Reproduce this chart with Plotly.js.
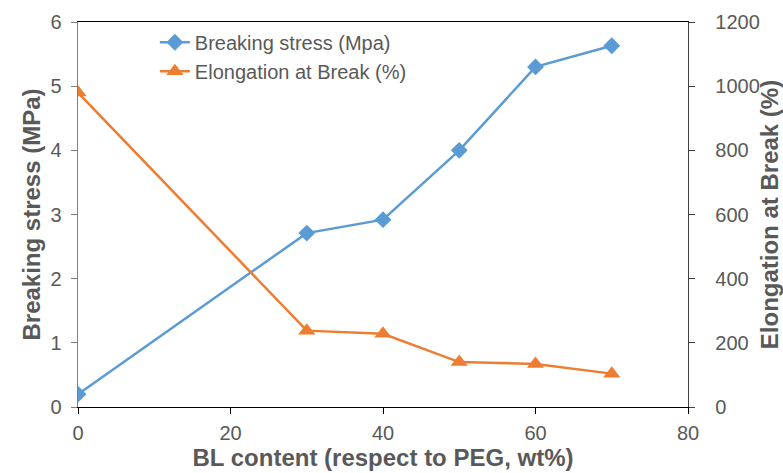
<!DOCTYPE html>
<html>
<head>
<meta charset="utf-8">
<script src="https://cdn.plot.ly/plotly-3.0.1.min.js"></script>
<style>html,body{margin:0;padding:0;background:#fff;}#chart{width:783px;height:473px;}</style>
</head>
<body>
<div id="chart"></div>
<script>
const blContent = [0, 30, 40, 50, 60, 70];
const breakingStress = [0.2, 2.71, 2.92, 4.0, 5.3, 5.63];
const elongation = [980, 238, 228, 140, 134, 104];
const seriesNames = ['Breaking stress (Mpa)', 'Elongation at Break (%)'];

const gray = '#595959';
const tickFont = {family: 'Liberation Sans, Arial, sans-serif', size: 20, color: gray};
const titleFont = {family: 'Liberation Sans, Arial, sans-serif', size: 24, color: gray, weight: 'bold'};

const traces = [
  {x: blContent, y: breakingStress, name: seriesNames[0], type: 'scatter', mode: 'lines+markers',
   line: {color: '#5B9BD5', width: 2.5}, marker: {symbol: 'diamond', size: 13, color: '#5B9BD5'}},
  {x: blContent, y: elongation, name: seriesNames[1], type: 'scatter', mode: 'lines+markers', yaxis: 'y2',
   line: {color: '#ED7D31', width: 2.5}, marker: {symbol: 'triangle-up', size: 15, color: '#ED7D31'}}
];

const layout = {
  width: 783, height: 473,
  margin: {l: 78, r: 95, t: 22, b: 66},
  paper_bgcolor: '#fff', plot_bgcolor: '#fff',
  showlegend: true,
  legend: {x: 0.126, y: 0.998, xanchor: 'left', yanchor: 'top', font: {family: 'Liberation Sans, Arial, sans-serif', size: 20, color: gray}, tracegroupgap: 0, itemwidth: 30, bgcolor: 'rgba(0,0,0,0)'},
  xaxis: {range: [0, 80], dtick: 20, tick0: 0, showgrid: false, zeroline: false,
    showline: true, linecolor: '#000', linewidth: 1.3, mirror: true,
    ticks: 'outside', ticklen: 6, tickcolor: '#000', tickfont: tickFont, ticklabelstandoff: 2,
    title: {text: 'BL content (respect to PEG, wt%)', font: titleFont, standoff: 5}},
  yaxis: {range: [0, 6], dtick: 1, showgrid: false, zeroline: false,
    showline: true, linecolor: '#7f7f7f', linewidth: 1.3,
    ticks: 'outside', ticklen: 6, tickcolor: '#7f7f7f', tickfont: tickFont, ticklabelstandoff: 5,
    title: {text: 'Breaking stress (MPa)', font: titleFont, standoff: 3}},
  yaxis2: {range: [0, 1200], dtick: 200, overlaying: 'y', side: 'right', showgrid: false, zeroline: false,
    showline: true, linecolor: '#404040', linewidth: 1.3,
    ticks: 'outside', ticklen: 6, tickcolor: '#404040', tickfont: tickFont, ticklabelstandoff: 16,
    title: {text: 'Elongation at Break (%)', font: titleFont, standoff: 4}}
};

Plotly.newPlot('chart', traces, layout, {displayModeBar: false, staticPlot: true});
</script>
</body>
</html>
